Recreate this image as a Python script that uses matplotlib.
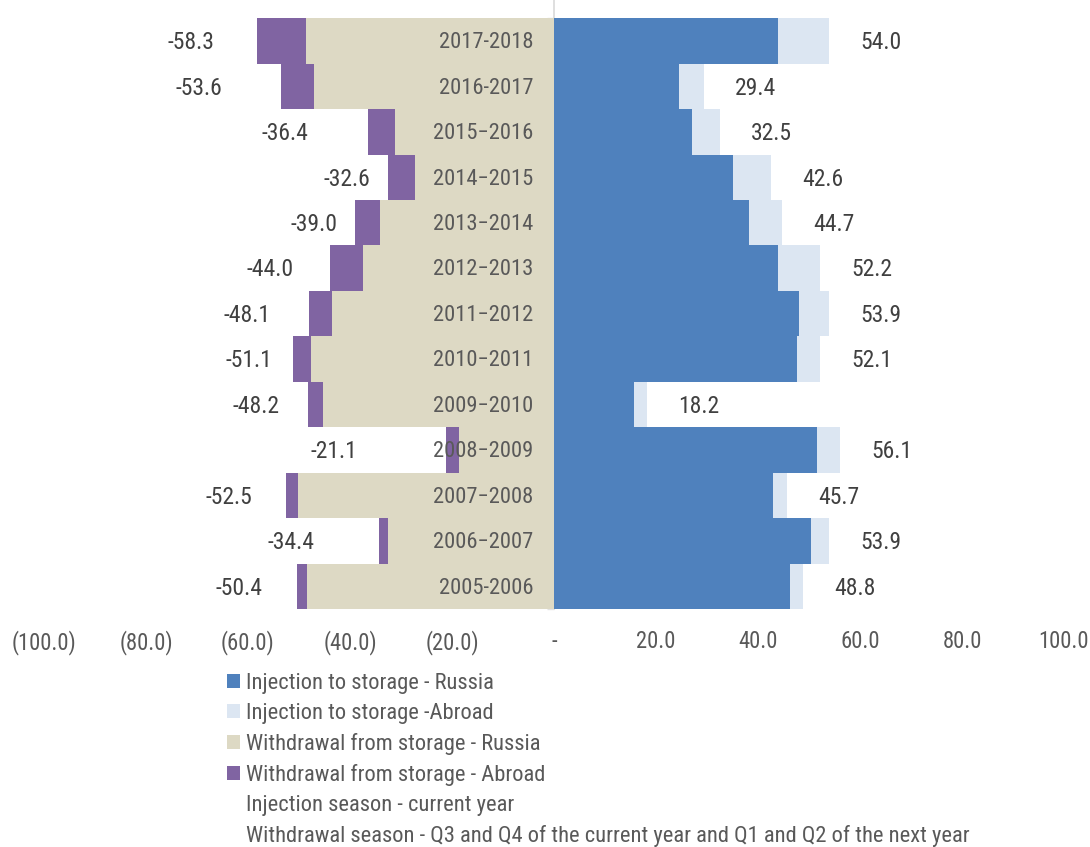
import matplotlib
matplotlib.use("Agg")
import matplotlib.pyplot as plt
from matplotlib import font_manager
from matplotlib.patches import Patch
from matplotlib.ticker import FuncFormatter, FixedLocator
import numpy as np

##### DATA #####
seasons = ["2017-2018", "2016-2017", "2015\u22122016", "2014\u22122015", "2013\u22122014",
           "2012\u22122013", "2011\u22122012", "2010\u22122011", "2009\u22122010", "2008\u22122009",
           "2007\u22122008", "2006\u22122007", "2005-2006"]

inj_russia = [44.0, 24.5, 27.0, 35.0, 38.2, 44.0, 48.0, 47.6, 15.7, 51.5, 42.9, 50.3, 46.2]
inj_total = [54.0, 29.4, 32.5, 42.6, 44.7, 52.2, 53.9, 52.1, 18.2, 56.1, 45.7, 53.9, 48.8]

wd_russia = [48.7, 47.0, 31.1, 27.3, 34.2, 37.4, 43.6, 47.6, 45.3, 18.6, 50.1, 32.6, 48.5]
wd_total = [58.3, 53.6, 36.4, 32.6, 39.0, 44.0, 48.1, 51.1, 48.2, 21.1, 52.5, 34.4, 50.4]

# label gaps (left side labels sit a bit irregularly in the original)
neg_label_gap = [12.9, 16.0, 16.3, 8.0, 8.1, 11.7, 12.0, 8.8, 10.2, 22.1, 11.3, 17.2, 11.3]
pos_label_gap = 10.2

legend_labels = ["Injection to storage - Russia", "Injection to storage -Abroad",
                 "Withdrawal from storage - Russia", "Withdrawal from storage - Abroad",
                 "Injection season - current year",
                 "Withdrawal season - Q3 and Q4 of the current year and Q1 and Q2 of the next year"]

##### STYLE #####
c_blue = "#4F81BD"
c_lblue = "#DCE6F2"
c_beige = "#DDD9C4"
c_purple = "#8064A2"
c_text = "#595959"
c_lab = "#404040"

names = {f.name for f in font_manager.fontManager.ttflist}
narrow = [f for f in ["Liberation Sans Narrow", "Arial Narrow", "Roboto Condensed",
                      "Open Sans Condensed"] if f in names]
if narrow:
    fam = narrow[0]
    fs, fs_year, fs_tick, fs_leg = 17, 16.2, 16.3, 16.2
else:
    fam = "Liberation Sans"
    fs, fs_year, fs_tick, fs_leg = 15, 14.5, 14.5, 14
plt.rcParams["font.family"] = [fam, "DejaVu Sans"]

inj_russia = np.array(inj_russia)
inj_abroad = np.array(inj_total) - inj_russia
wd_russia = np.array(wd_russia)
wd_abroad = np.array(wd_total) - wd_russia

n = len(seasons)
ypos = np.arange(n)[::-1]  # first season on top

fig = plt.figure(figsize=(10.9, 8.47), dpi=100, facecolor="white")
ax = fig.add_axes([44 / 1090, 1 - 609 / 847, 1020 / 1090, 609 / 847])

ax.barh(ypos, inj_russia, height=1.0, color=c_blue, zorder=2)
ax.barh(ypos, inj_abroad, left=inj_russia, height=1.0, color=c_lblue, zorder=2)
ax.barh(ypos, -wd_russia, height=1.0, color=c_beige, zorder=2)
ax.barh(ypos, -wd_abroad, left=-wd_russia, height=1.0, color=c_purple, zorder=2)

dy = -0.04
for i in range(n):
    ax.text(-4, ypos[i] + dy, seasons[i], ha="right", va="center", fontsize=fs_year, color=c_text, zorder=4)
    ax.text(inj_total[i] + pos_label_gap, ypos[i] + dy, f"{inj_total[i]:.1f}", ha="center",
            va="center", fontsize=fs, color=c_lab, zorder=4)
    ax.text(-wd_total[i] - neg_label_gap[i], ypos[i] + dy, f"-{wd_total[i]:.1f}", ha="center",
            va="center", fontsize=fs, color=c_lab, zorder=4)

ax.set_xlim(-100, 100)
ax.set_ylim(-0.5, n - 0.5 + 0.4)

for s in ["top", "right", "bottom"]:
    ax.spines[s].set_visible(False)
ax.spines["left"].set_position(("data", 0))
ax.spines["left"].set_color("#D9D9D9")
ax.spines["left"].set_linewidth(1.2)
ax.spines["left"].set_zorder(1)

def fmt(v, pos):
    if abs(v) < 1e-9:
        return "-"
    if v < 0:
        return f"({abs(v):.1f})"
    return f"{v:.1f}"

ax.set_xticks(np.arange(-100, 101, 20))
ax.xaxis.set_major_formatter(FuncFormatter(fmt))
ax.tick_params(axis="x", length=0, pad=15, labelsize=fs_tick, labelcolor=c_text)
ax.set_yticks([])
ax.yaxis.set_minor_locator(FixedLocator(np.arange(-0.5, n, 1.0)))
ax.tick_params(axis="y", which="minor", length=5, width=1, color="#E3E3E3")

handles = [Patch(facecolor=c_blue), Patch(facecolor=c_lblue), Patch(facecolor=c_beige),
           Patch(facecolor=c_purple), Patch(facecolor="none", edgecolor="none"),
           Patch(facecolor="none", edgecolor="none")]
leg = fig.legend(handles, legend_labels, loc="upper left", bbox_to_anchor=(227 / 1090, 1 - 673 / 847),
                 frameon=False, fontsize=fs_leg, handlelength=0.58, handleheight=0.58,
                 handletextpad=0.25, labelspacing=0.40, borderpad=0, borderaxespad=0)
for t in leg.get_texts():
    t.set_color(c_text)

fig.savefig("out.png", dpi=100, facecolor="white")
